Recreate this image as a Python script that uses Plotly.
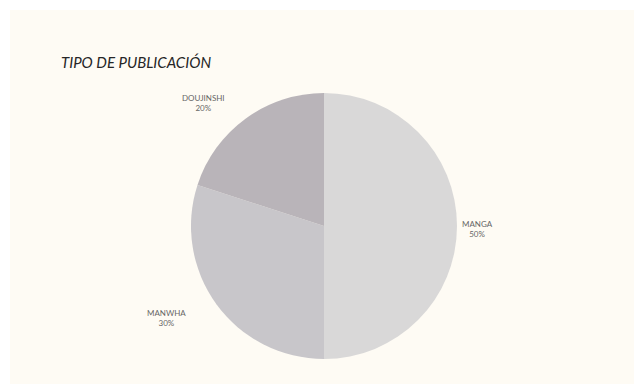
import plotly.graph_objects as go

categories = ["MANGA", "MANWHA", "DOUJINSHI"]
values = [50, 30, 20]
colors = ["#d9d8d8", "#c8c6ca", "#b9b4b9"]
title_text = "TIPO DE PUBLICACIÓN"

W, H = 634, 392
cx, cy, r = 324, 226, 133

fig = go.Figure(go.Pie(
    labels=categories,
    values=values,
    sort=False,
    direction="clockwise",
    rotation=0,
    marker=dict(colors=colors, line=dict(width=0)),
    textinfo="none",
    hoverinfo="label+percent",
    showlegend=False,
    domain=dict(x=[(cx - r) / W, (cx + r) / W], y=[1 - (cy + r) / H, 1 - (cy - r) / H]),
))

label_pos = {"MANGA": (477, 229), "MANWHA": (166, 318), "DOUJINSHI": (203, 103)}
total = sum(values)
annotations = []
for c, v in zip(categories, values):
    px, py = label_pos[c]
    annotations.append(dict(
        x=px / W, y=1 - py / H, xref="paper", yref="paper",
        text=f"{c}<br>{round(v / total * 100)}%", showarrow=False,
        font=dict(family="Lato", size=8, color="#666666"),
        xanchor="center", yanchor="middle", align="center",
    ))
annotations.append(dict(
    x=59 / W, y=1 - 62 / H, xref="paper", yref="paper",
    text=f"<i>{title_text}</i>", showarrow=False,
    font=dict(family="Lato", size=15, color="#262626"),
    xanchor="left", yanchor="middle",
))

fig.update_layout(
    width=W, height=H,
    margin=dict(l=0, r=0, t=0, b=0),
    paper_bgcolor="#ffffff",
    plot_bgcolor="#ffffff",
    annotations=annotations,
    shapes=[dict(type="rect", xref="paper", yref="paper",
                 x0=10 / W, x1=1, y0=1 - 384 / H, y1=1 - 10 / H,
                 fillcolor="#fefbf4", line=dict(width=0), layer="below")],
)

fig.write_html("out.html", config={"displayModeBar": False},
               post_script="document.body.style.margin='0';")
